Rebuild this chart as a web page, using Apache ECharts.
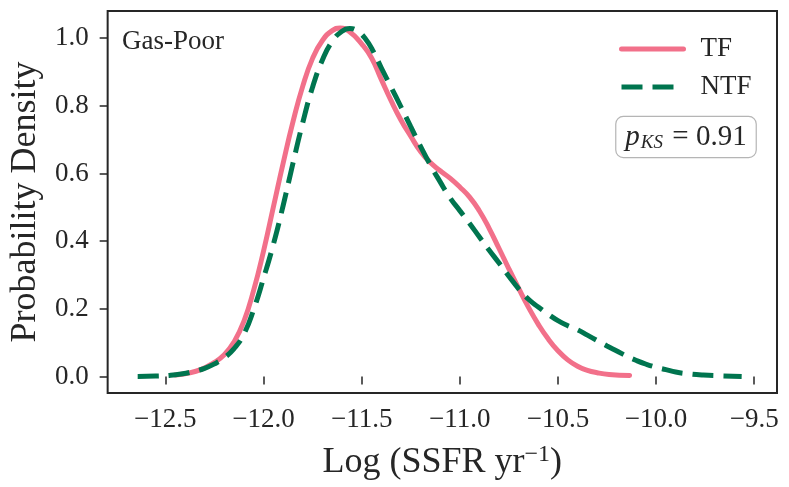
<!DOCTYPE html>
<html>
<head>
<meta charset="utf-8">
<script src="https://cdn.jsdelivr.net/npm/echarts@6/dist/echarts.min.js"></script>
<style>
html,body{margin:0;padding:0;background:#fff;}
#c{width:789px;height:487px;}
</style>
</head>
<body>
<div id="c"></div>
<script>
// ---- data ----
const tfX = [-12.45, -12.38, -12.32, -12.26, -12.20, -12.15, -12.10, -12.05, -12.00, -11.95, -11.90, -11.85, -11.80, -11.75, -11.70, -11.65, -11.61, -11.56, -11.50, -11.45, -11.40, -11.35, -11.30, -11.25, -11.20, -11.15, -11.10, -11.05, -11.00, -10.95, -10.90, -10.85, -10.80, -10.75, -10.70, -10.65, -10.60, -10.55, -10.50, -10.45, -10.40, -10.35, -10.30, -10.24, -10.135];
const tfY = [0.004, 0.010, 0.020, 0.038, 0.064, 0.102, 0.163, 0.255, 0.370, 0.500, 0.630, 0.752, 0.858, 0.940, 0.993, 1.022, 1.030, 1.018, 0.983, 0.942, 0.878, 0.815, 0.758, 0.710, 0.665, 0.632, 0.608, 0.586, 0.560, 0.530, 0.489, 0.437, 0.378, 0.318, 0.260, 0.204, 0.154, 0.111, 0.076, 0.049, 0.030, 0.018, 0.011, 0.006, 0.003];
const ntfX = [-12.641, -12.55, -12.48, -12.42, -12.36, -12.30, -12.25, -12.20, -12.15, -12.10, -12.05, -12.00, -11.95, -11.90, -11.85, -11.80, -11.75, -11.70, -11.65, -11.60, -11.56, -11.52, -11.48, -11.44, -11.40, -11.35, -11.30, -11.25, -11.20, -11.15, -11.10, -11.05, -11.00, -10.95, -10.90, -10.85, -10.80, -10.75, -10.70, -10.65, -10.60, -10.55, -10.50, -10.45, -10.40, -10.35, -10.30, -10.25, -10.20, -10.15, -10.10, -10.05, -10.00, -9.95, -9.90, -9.84, -9.76, -9.68, -9.564];
const ntfY = [0.000, 0.001, 0.003, 0.007, 0.014, 0.024, 0.037, 0.055, 0.082, 0.125, 0.198, 0.290, 0.390, 0.505, 0.630, 0.750, 0.855, 0.935, 0.990, 1.020, 1.028, 1.020, 0.997, 0.960, 0.912, 0.855, 0.797, 0.738, 0.680, 0.625, 0.575, 0.528, 0.490, 0.452, 0.412, 0.373, 0.335, 0.296, 0.259, 0.228, 0.205, 0.184, 0.165, 0.150, 0.138, 0.122, 0.106, 0.090, 0.075, 0.060, 0.047, 0.036, 0.027, 0.020, 0.013, 0.008, 0.004, 0.002, 0.000];
const xTicks = [-12.5, -12.0, -11.5, -11.0, -10.5, -10.0, -9.5];
const yTicks = [0.0, 0.2, 0.4, 0.6, 0.8, 1.0];
const seriesNames = ['TF', 'NTF'];
const panelLabel = 'Gas-Poor';
const pKS = '0.91';

const pairs = (xs, ys) => xs.map((x, i) => [x, ys[i]]);
const ink = '#262626';
const serif = '"Liberation Serif", "DejaVu Serif", serif';
const tfColor = '#F2708A';
const ntfColor = '#00754F';
const ntfDash = [21, 10];

const chart = echarts.init(document.getElementById('c'), null, {renderer: 'canvas'});
chart.setOption({
  backgroundColor: '#fff',
  animation: false,
  textStyle: {fontFamily: serif, color: ink},
  grid: {left: 101, right: 12, top: 11, bottom: 94, show: true, borderColor: ink, borderWidth: 2, backgroundColor: 'transparent'},
  xAxis: {
    type: 'value', min: -12.794, max: -9.384,
    axisLine: {show: false},
    splitLine: {show: false},
    axisTick: {show: true, length: 8, lineStyle: {color: ink, width: 1.5}, customValues: xTicks},
    axisLabel: {customValues: xTicks, fontSize: 27, color: ink, fontFamily: serif, margin: 13,
      formatter: v => (v < 0 ? '\u2212' : '') + Math.abs(v).toFixed(1)},
    name: 'Log (SSFR yr{s|\u22121})',
    nameLocation: 'middle', nameGap: 50,
    nameTextStyle: {fontSize: 36, color: ink, fontFamily: serif,
      rich: {s: {fontSize: 24, verticalAlign: 'top', color: ink, fontFamily: serif, padding: [0, 0, 16, 0]}}}
  },
  yAxis: {
    type: 'value', min: -0.049, max: 1.080,
    axisLine: {show: false},
    splitLine: {show: false},
    axisTick: {show: true, length: 8, lineStyle: {color: ink, width: 1.5}, customValues: yTicks},
    axisLabel: {customValues: yTicks, fontSize: 27, color: ink, fontFamily: serif, margin: 19,
      formatter: v => v.toFixed(1)},
    name: 'Probability Density',
    nameLocation: 'middle', nameGap: 58,
    nameTextStyle: {fontSize: 36, color: ink, fontFamily: serif}
  },
  legend: {
    orient: 'vertical', left: 614, top: 29,
    itemWidth: 62, itemHeight: 14, itemGap: 8,
    itemStyle: {opacity: 0},
    textStyle: {fontSize: 27, lineHeight: 30, color: ink, fontFamily: serif, padding: [0, 0, 0, 12]},
    data: [
      {name: seriesNames[0], lineStyle: {width: 5, color: tfColor, cap: 'round'}},
      {name: seriesNames[1], lineStyle: {width: 5, color: ntfColor, type: ntfDash, cap: 'butt'}}
    ]
  },
  series: [
    {name: seriesNames[0], type: 'line', data: pairs(tfX, tfY), symbol: 'none', smooth: 0.5,
      lineStyle: {color: tfColor, width: 5, cap: 'round'}, itemStyle: {color: tfColor}, z: 2},
    {name: seriesNames[1], type: 'line', data: pairs(ntfX, ntfY), symbol: 'none', smooth: 0.5,
      lineStyle: {color: ntfColor, width: 5, type: ntfDash, cap: 'butt'}, itemStyle: {color: ntfColor}, z: 3}
  ],
  graphic: [
    {type: 'text', x: 122, y: 42, style: {text: panelLabel, font: '27px ' + serif, fill: ink, verticalAlign: 'middle', align: 'left'}},
    {type: 'text', x: 686, y: 137, style: {
      text: '{p|p}{s|KS}{n| = ' + pKS + '}',
      align: 'center', verticalAlign: 'middle',
      backgroundColor: '#fff', borderColor: '#b5b5b5', borderWidth: 1.2, borderRadius: 7,
      padding: [5, 9, 5, 9],
      rich: {
        p: {fontSize: 29, fontStyle: 'italic', fontFamily: serif, fill: ink, lineHeight: 30},
        s: {fontSize: 19, fontStyle: 'italic', fontFamily: serif, fill: ink, lineHeight: 30, verticalAlign: 'bottom', padding: [12, 2, 0, 1]},
        n: {fontSize: 29, fontFamily: serif, fill: ink, lineHeight: 30}
      }
    }}
  ]
});
</script>
</body>
</html>
